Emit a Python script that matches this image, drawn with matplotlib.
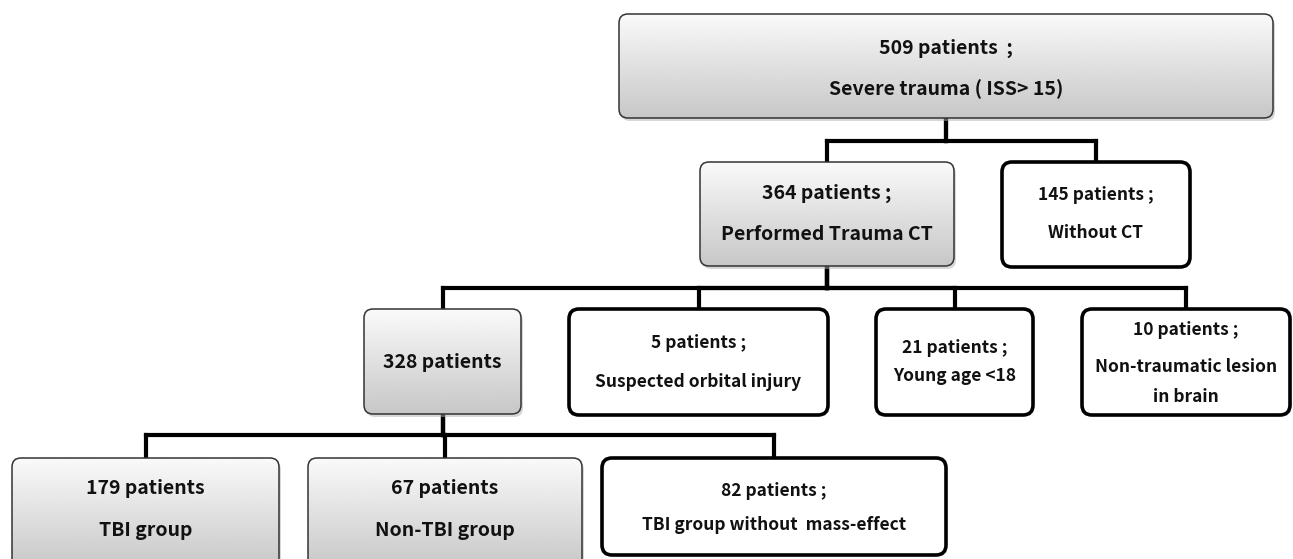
#
# Patient selection flowchart
#

import numpy as np
import matplotlib.pyplot as plt
from matplotlib.patches import FancyBboxPatch

plt.rcParams['font.family'] = ['Noto Sans CJK KR', 'DejaVu Sans']

# node data
counts = [509, 364, 145, 328, 5, 21, 10, 179, 67, 82]
count_suffix = ['  ;', ' ;', ' ;', '', ' ;', ' ;', ' ;', '', '', ' ;']
notes = ['Severe trauma ( ISS> 15)', 'Performed Trauma CT', 'Without CT', '',
         'Suspected orbital injury', 'Young age <18', 'Non-traumatic lesion\nin brain',
         'TBI group', 'Non-TBI group', 'TBI group without  mass-effect']
parents = [None, 0, 0, 1, 1, 1, 1, 3, 3, 3]
shaded = [True, True, False, True, False, False, False, True, True, False]

# layout in pixels: left, top, right, bottom and the y of each text line
boxes = [(619, 14, 1273, 118), (700, 162, 954, 266), (1002, 162, 1190, 267),
         (364, 309, 521, 414), (569, 309, 828, 415), (876, 309, 1033, 415),
         (1082, 309, 1290, 415), (12, 458, 279, 570), (308, 458, 582, 570),
         (602, 458, 946, 555)]
text_rows = [[48, 89], [193, 235], [195, 233], [362], [343, 382], [348, 376],
             [330, 367, 397], [489, 531], [489, 531], [491, 525]]
bus_y = {0: 141, 1: 288, 3: 435}

W, H = 1293, 559
fig = plt.figure(figsize=(W / 100, H / 100), dpi=100)
ax = fig.add_axes([0, 0, 1, 1])

# connectors (drawn first, boxes sit on top)
for i, p in enumerate(parents):
    if p is None:
        continue
    px = (boxes[p][0] + boxes[p][2]) / 2
    cx = (boxes[i][0] + boxes[i][2]) / 2
    yb = bus_y[p]
    ax.plot([px, px], [boxes[p][3], yb], color='black', lw=3, solid_capstyle='projecting', zorder=1)
    ax.plot([px, cx], [yb, yb], color='black', lw=3, solid_capstyle='projecting', zorder=1)
    ax.plot([cx, cx], [yb, boxes[i][1]], color='black', lw=3, solid_capstyle='projecting', zorder=1)

grad = np.linspace(0.98, 0.78, 256)[:, None]

for i, (x0, y0, x1, y1) in enumerate(boxes):
    if shaded[i]:
        shadow = FancyBboxPatch((x0 + 2, y0 + 3), x1 - x0, y1 - y0,
                                boxstyle='round,pad=0,rounding_size=9',
                                fc='#b0b0b0', ec='none', alpha=0.5, zorder=2)
        ax.add_patch(shadow)
        patch = FancyBboxPatch((x0, y0), x1 - x0, y1 - y0,
                               boxstyle='round,pad=0,rounding_size=9',
                               fc='none', ec='#333333', lw=1.1, zorder=4)
        ax.add_patch(patch)
        im = ax.imshow(grad, cmap='gray', vmin=0, vmax=1, extent=(x0, x1, y1, y0),
                       aspect='auto', zorder=3, interpolation='bilinear')
        im.set_clip_path(patch)
        fs = 14
    else:
        patch = FancyBboxPatch((x0, y0), x1 - x0, y1 - y0,
                               boxstyle='round,pad=0,rounding_size=10',
                               fc='white', ec='black', lw=2.6, zorder=4)
        ax.add_patch(patch)
        fs = 12.5

    lines = ['%d patients%s' % (counts[i], count_suffix[i])]
    if notes[i]:
        lines += notes[i].split('\n')
    cx = (x0 + x1) / 2
    for txt, ty in zip(lines, text_rows[i]):
        ax.text(cx, ty, txt, ha='center', va='center', fontsize=fs,
                fontweight='bold', color='#111111', zorder=5)

ax.set_xlim(0, W)
ax.set_ylim(H, 0)
ax.axis('off')

fig.savefig('out.png', dpi=100)
